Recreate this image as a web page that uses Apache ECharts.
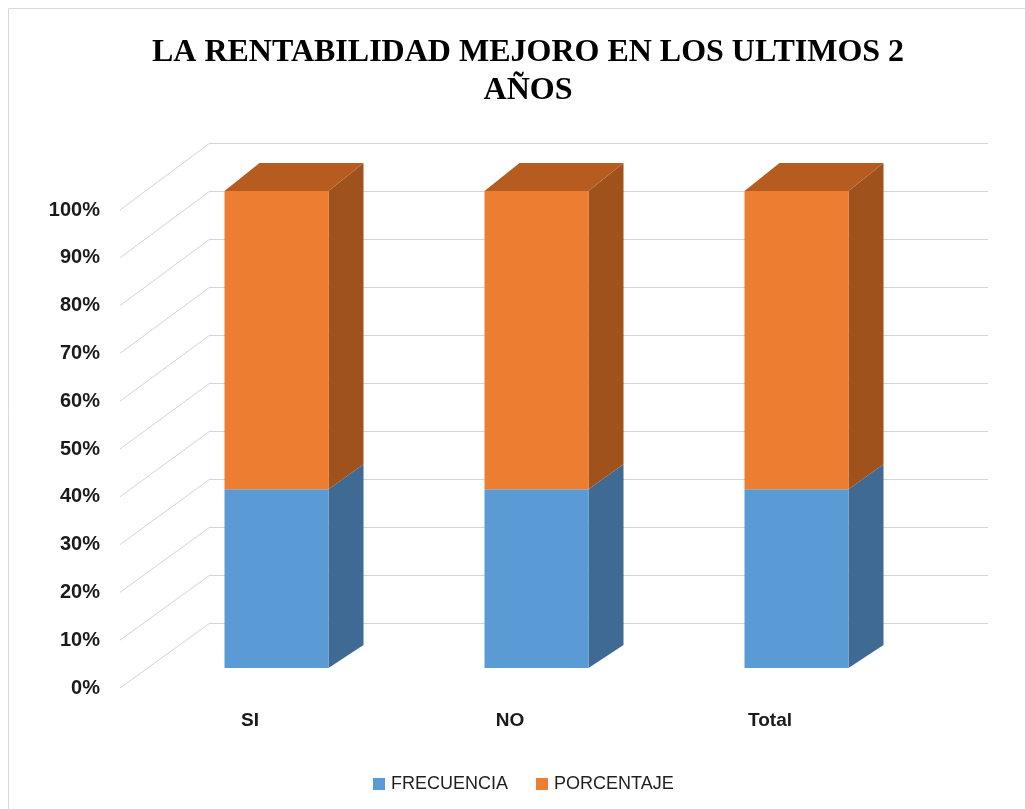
<!DOCTYPE html>
<html>
<head>
<meta charset="utf-8">
<title>La rentabilidad mejoro en los ultimos 2 años</title>
<script src="https://cdn.jsdelivr.net/npm/echarts@6/dist/echarts.min.js"></script>
<style>
  html, body { margin: 0; padding: 0; background: #fff; }
  #myChart0 { width: 1025px; height: 809px; }
</style>
</head>
<body>
<div id="myChart0"></div>
<script>
// datos (apilado al 100%)
var categorias = ["SI", "NO", "Total"];
var frecuencia = [37.5, 37.5, 37.5];
var porcentaje = [62.5, 62.5, 62.5];
var ticksY = [0, 10, 20, 30, 40, 50, 60, 70, 80, 90, 100];

var colores = {
  frecuencia: { front: "#5b9bd5", side: "#3e6a94", top: "#4a80b3" },
  porcentaje: { front: "#ed7d31", side: "#a0521c", top: "#b65c20" }
};

// profundidad de las barras 3d
var DX = 35;
function dyBar(v) {
  return -(23 + 5 * v / 100);
}

function cajaRender(col, conTapa) {
  return function (params, api) {
    var cat = api.value(0);
    var lo = api.value(1);
    var hi = api.value(2);
    var pLo = api.coord([cat, lo]);
    var pHi = api.coord([cat, hi]);
    var w = api.size([1, 0])[0] * 0.4;
    var x0 = pLo[0] - w / 2;
    var x1 = x0 + w;
    var yB = pLo[1];
    var yT = pHi[1];
    var dLo = dyBar(lo);
    var dHi = dyBar(hi);
    var hijos = [
      {
        type: "polygon",
        shape: { points: [[x1, yT], [x1 + DX, yT + dHi], [x1 + DX, yB + dLo], [x1, yB]] },
        style: { fill: col.side }
      },
      {
        type: "polygon",
        shape: { points: [[x0, yT], [x1, yT], [x1, yB], [x0, yB]] },
        style: { fill: col.front }
      }
    ];
    if (conTapa) {
      hijos.push({
        type: "polygon",
        shape: { points: [[x0, yT], [x0 + DX, yT + dHi], [x1 + DX, yT + dHi], [x1, yT]] },
        style: { fill: col.top }
      });
    }
    return { type: "group", children: hijos };
  };
}

var datosFrec = [];
var datosPorc = [];
categorias.forEach(function (c, i) {
  datosFrec.push([i, 0, frecuencia[i]]);
  datosPorc.push([i, frecuencia[i], frecuencia[i] + porcentaje[i]]);
});

// lineas diagonales del piso/pared izquierda
function diagonalRender(params, api) {
  var v = api.value(0);
  var p = api.coord([0, v]);
  var x = params.coordSys.x;
  var dy = -(65 + 2 * v / 100);
  return {
    type: "line",
    shape: { x1: x, y1: p[1], x2: x + 90, y2: p[1] + dy },
    style: { stroke: "#d4d4d4", lineWidth: 1 }
  };
}

var myChart = echarts.init(document.getElementById("myChart0"));
myChart.setOption({
  animation: false,
  backgroundColor: "#ffffff",
  graphic: [
    {
      type: "rect",
      shape: { x: 8.5, y: 8.5, width: 1040, height: 830 },
      style: { fill: null, stroke: "#d9d9d9", lineWidth: 1 },
      silent: true
    }
  ],
  title: {
    text: "LA RENTABILIDAD MEJORO EN LOS ULTIMOS 2\nAÑOS",
    left: 523,
    top: 29,
    textAlign: "center",
    textStyle: {
      fontFamily: "Liberation Serif",
      fontWeight: "bold",
      fontSize: 32,
      lineHeight: 38,
      color: "#000"
    }
  },
  legend: {
    left: 368,
    top: 770,
    itemWidth: 12,
    itemHeight: 12,
    itemGap: 28,
    icon: "rect",
    data: ["FRECUENCIA", "PORCENTAJE"],
    textStyle: {
      fontFamily: "Liberation Sans",
      fontSize: 18,
      color: "#1f1f1f",
      padding: [0, 0, 0, 1]
    }
  },
  grid: [
    // pared del fondo
    { left: 210, right: 37, top: 143, bottom: 186 },
    // plano frontal de las barras
    { left: 146.5, right: 98.5, top: 191, bottom: 141 },
    // plano frontal de etiquetas
    { left: 120, right: 125, top: 210, bottom: 121 }
  ],
  xAxis: [
    { gridIndex: 0, type: "value", show: false, min: 0, max: 1 },
    { gridIndex: 1, type: "category", data: categorias, show: false },
    {
      gridIndex: 2,
      type: "category",
      data: categorias,
      axisLine: { show: false },
      axisTick: { show: false },
      axisLabel: {
        margin: 23,
        fontFamily: "Liberation Sans",
        fontWeight: "bold",
        fontSize: 19,
        color: "#1a1a1a"
      }
    }
  ],
  yAxis: [
    {
      gridIndex: 0,
      type: "value",
      min: 0,
      max: 100,
      interval: 10,
      axisLine: { show: false },
      axisTick: { show: false },
      axisLabel: { show: false },
      splitLine: { lineStyle: { color: "#d4d4d4", width: 1 } }
    },
    { gridIndex: 1, type: "value", min: 0, max: 100, show: false },
    {
      gridIndex: 2,
      type: "value",
      min: 0,
      max: 100,
      interval: 10,
      axisLine: { show: false },
      axisTick: { show: false },
      splitLine: { show: false },
      axisLabel: {
        margin: 20,
        formatter: "{value}%",
        fontFamily: "Liberation Sans",
        fontWeight: "bold",
        fontSize: 20,
        color: "#1a1a1a",
        padding: [6, 0, 0, 0]
      }
    }
  ],
  series: [
    {
      name: "diagonales",
      type: "custom",
      xAxisIndex: 2,
      yAxisIndex: 2,
      silent: true,
      data: ticksY.map(function (t) { return [t]; }),
      encode: { y: 0 },
      renderItem: diagonalRender
    },
    {
      name: "FRECUENCIA",
      type: "custom",
      xAxisIndex: 1,
      yAxisIndex: 1,
      itemStyle: { color: colores.frecuencia.front },
      data: datosFrec,
      encode: { x: 0, y: [1, 2] },
      renderItem: cajaRender(colores.frecuencia, false)
    },
    {
      name: "PORCENTAJE",
      type: "custom",
      xAxisIndex: 1,
      yAxisIndex: 1,
      itemStyle: { color: colores.porcentaje.front },
      data: datosPorc,
      encode: { x: 0, y: [1, 2] },
      renderItem: cajaRender(colores.porcentaje, true)
    }
  ]
});
</script>
</body>
</html>
